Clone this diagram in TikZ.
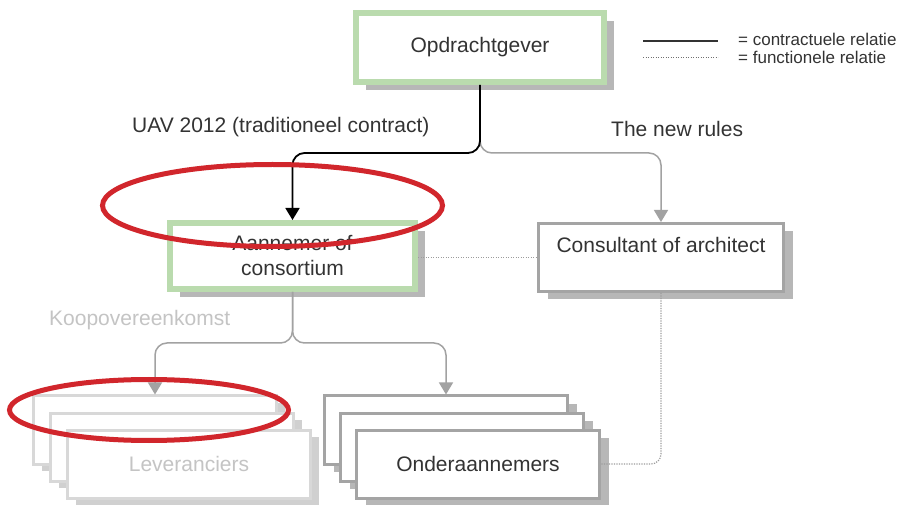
\documentclass[tikz,border=0pt]{standalone}
\usepackage{fontspec}
\setmainfont{Liberation Sans}
\usetikzlibrary{arrows.meta,shadows}

\definecolor{txt}{HTML}{333333}
\definecolor{boxgreen}{HTML}{BADBAE}
\definecolor{shade}{HTML}{B7B7B7}
\definecolor{edgegrey}{HTML}{A4A4A4}
\definecolor{lightedge}{HTML}{D8D8D8}
\definecolor{lightshade}{HTML}{D0D0D0}
\definecolor{lighttxt}{HTML}{C4C4C4}
\definecolor{linkgrey}{HTML}{A2A2A2}
\definecolor{dotgrey}{HTML}{9C9C9C}
\definecolor{legenddot}{HTML}{707070}
\definecolor{markred}{HTML}{D1262C}

\begin{document}
\begin{tikzpicture}[x=1pt,y=-1pt,
  font=\fontsize{21}{25}\selectfont,
  base/.style={rectangle, fill=white, text=txt, align=center, inner sep=0pt},
  greenbox/.style={base, draw=boxgreen, line width=6pt,
    drop shadow={shadow xshift=10pt, shadow yshift=-8pt, fill=shade, opacity=1}},
  greybox/.style={base, draw=edgegrey, line width=3pt,
    minimum width=243pt, minimum height=68pt,
    drop shadow={shadow xshift=9pt, shadow yshift=-8pt, fill=shade, opacity=1}},
  palebox/.style={base, draw=lightedge, line width=3pt, text=lighttxt,
    minimum width=243pt, minimum height=68pt,
    drop shadow={shadow xshift=8pt, shadow yshift=-7pt, fill=lightshade, opacity=1}},
  contract/.style={draw=black, line width=1.8pt, rounded corners=12pt,
    -{Triangle[width=14pt,length=12pt]}},
  link/.style={draw=linkgrey, line width=1.5pt, rounded corners=12pt,
    -{Triangle[width=14pt,length=12pt]}},
  func/.style={draw=dotgrey, line width=1.2pt, dash pattern=on 1.2pt off 1.3pt},
  label/.style={anchor=west, text=txt, inner sep=0pt},
  marker/.style={draw=markred, line width=5pt}
]
\fill[white] (0,0) rectangle (906,505);
\useasboundingbox (0,0) rectangle (906,505);

% main parties
\node[greenbox, minimum width=248pt, minimum height=69pt] (opd) at (480,47.5) {Opdrachtgever};
\node[greenbox, minimum width=245pt, minimum height=66pt] (aan) at (292.5,256) {Aannemer of\\consortium};
\node[greybox, minimum width=245pt] (cons) at (661,257.5) {Consultant of architect\\\mbox{}};

% supplier stack
\node[palebox] (lev1) at (155,430) {};
\node[palebox] (lev2) at (172,447) {};
\node[palebox] (lev3) at (189,464) {Leveranciers};

% subcontractor stack
\node[greybox] (ond1) at (446,430) {};
\node[greybox] (ond2) at (462,447) {};
\node[greybox] (ond3) at (478,464) {Onderaannemers};

% relations from the client
\path (opd.south) ++(0,68) coordinate (j1);
\draw[link] (opd.south) -- (j1) -| (cons.north);
\draw[contract] (opd.south) -- (j1) -| (aan.north);

% relations from the contractor
\path (aan.south) ++(0,51) coordinate (j2);
\draw[link] (aan.south) -- (j2) -| (lev1.north);
\draw[link] (aan.south) -- (j2) -| (ond1.north);

% functional relations
\draw[func] ([yshift=-1.5pt]aan.east) -- ([yshift=-1.5pt]aan.east -| cons.west);
\draw[func, rounded corners=10pt] (cons.south) |- (ond3.east);

% relation labels
\node[label] (uav) at (132,127) {UAV 2012 (traditioneel contract)};
\node[label] (rules) at (611,129) {The new rules};
\node[label, text=lighttxt] (koop) at (49,320) {Koopovereenkomst};

% legend
\coordinate (la1) at (643,41);
\coordinate (la2) at (718,41);
\coordinate (lb1) at (643,57.5);
\coordinate (lb2) at (718,57.5);
\draw[draw=txt, line width=2pt] (la1) -- (la2);
\draw[draw=legenddot, line width=1.3pt, dash pattern=on 1.2pt off 1.3pt] (lb1) -- (lb2);
\node[label, font=\fontsize{17}{20}\selectfont] (lt1) at (738,39.5) {= contractuele relatie};
\node[label, font=\fontsize{17}{20}\selectfont] (lt2) at (738,57.5) {= functionele relatie};

% highlight marks
\draw[marker] (272.5,205.5) ellipse [x radius=170, y radius=41];
\draw[marker] (149,410) ellipse [x radius=139.5, y radius=30.5];
\end{tikzpicture}
\end{document}
